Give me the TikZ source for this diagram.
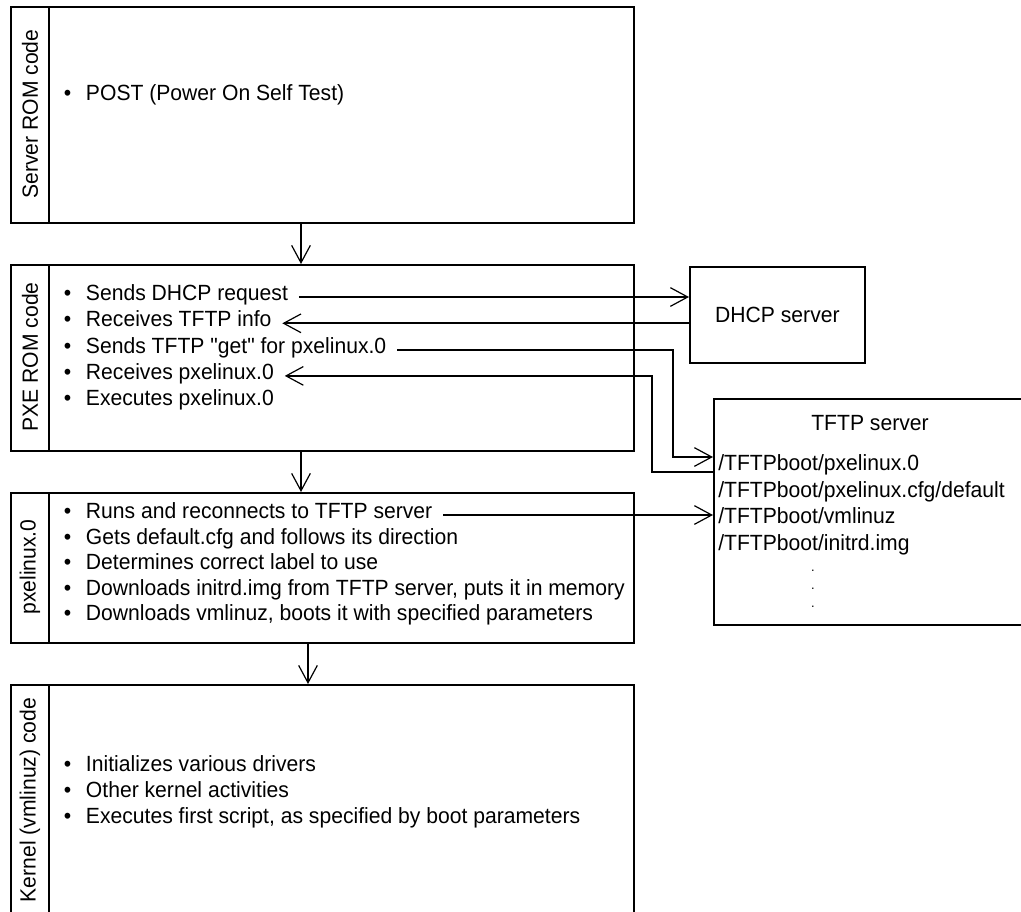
\documentclass[tikz,border=0pt]{standalone}
\usepackage{fontspec}
\setmainfont[FakeStretch=0.96,Ligatures=TeXOff]{Liberation Sans}
\usetikzlibrary{arrows.meta}

\begin{document}
\begin{tikzpicture}[x=0.75pt,y=0.75pt,yscale=-1,xscale=1,
  font=\fontsize{16.5}{20}\selectfont,
  stage/.style={draw, line width=1.4pt, anchor=north west, inner sep=0pt},
  tag/.style={rotate=90, inner sep=0.75pt},
  item/.style={anchor=mid west, inner xsep=8pt, inner ysep=0.75pt},
  file/.style={anchor=mid west, inner sep=0.75pt},
  link/.style={line width=1.4pt},
  flow/.style={line width=1.4pt, -{Straight Barb[length=13pt,width=14pt,line width=0.9pt]}}]
\useasboundingbox (0,0) rectangle (1021,911);

%Shape: Rectangle [stages]
\node [stage, minimum width=467.25pt, minimum height=162pt] (srv) at (10,6) {};
\node [stage, minimum width=467.25pt, minimum height=139.5pt] (pxe) at (10,264) {};
\node [stage, minimum width=467.25pt, minimum height=112.5pt] (pxl) at (10,492) {};
\node [stage, minimum width=467.25pt, minimum height=174pt] (krn) at (10,684) {};
%Shape: Rectangle [servers]
\node [stage, minimum width=131.25pt, minimum height=72pt] (dhcp) at (689,266) {DHCP server};
\node [stage, minimum width=237.75pt, minimum height=169.5pt] (tftp) at (713,398) {};

%Straight Lines [label column]
\draw [link] ([xshift=29.25pt]srv.north west) -- ([xshift=29.25pt]srv.south west);
\draw [link] ([xshift=29.25pt]pxe.north west) -- ([xshift=29.25pt]pxe.south west);
\draw [link] ([xshift=29.25pt]pxl.north west) -- ([xshift=29.25pt]pxl.south west);
\draw [link] ([xshift=29.25pt]krn.north west) -- ([xshift=29.25pt]krn.south west);

% Text Node
\node [tag] (srvtag) at (30,114) {Server ROM code};
% Text Node
\node [tag] (pxetag) at (30,357) {PXE ROM code};
% Text Node
\node [tag] (pxltag) at (30,567) {pxelinux.0};
% Text Node
\node [tag] (krntag) at (30,800) {Kernel (vmlinuz) code};

% Text Node
\node [item] (srvA) at (53,97) {\textbullet\hspace{11pt}POST (Power On Self Test)};

% Text Node
\node [item] (pxeA) at (53,297) {\textbullet\hspace{11pt}Sends DHCP request};
\node [item] (pxeB) at (53,323.3) {\textbullet\hspace{11pt}Receives TFTP info};
\node [item] (pxeC) at (53,349.6) {\textbullet\hspace{11pt}Sends TFTP "get" for pxelinux.0};
\node [item] (pxeD) at (53,375.9) {\textbullet\hspace{11pt}Receives pxelinux.0};
\node [item] (pxeE) at (53,402.2) {\textbullet\hspace{11pt}Executes pxelinux.0};

% Text Node
\node [item] (pxlA) at (53,515) {\textbullet\hspace{11pt}Runs and reconnects to TFTP server};
\node [item] (pxlB) at (53,540.6) {\textbullet\hspace{11pt}Gets default.cfg and follows its direction};
\node [item] (pxlC) at (53,566.2) {\textbullet\hspace{11pt}Determines correct label to use};
\node [item] (pxlD) at (53,591.8) {\textbullet\hspace{11pt}Downloads initrd.img from TFTP server, puts it in memory};
\node [item] (pxlE) at (53,617.4) {\textbullet\hspace{11pt}Downloads vmlinuz, boots it with specified parameters};

% Text Node
\node [item] (krnA) at (53,768) {\textbullet\hspace{11pt}Initializes various drivers};
\node [item] (krnB) at (53,794) {\textbullet\hspace{11pt}Other kernel activities};
\node [item] (krnC) at (53,820) {\textbullet\hspace{11pt}Executes first script, as specified by boot parameters};

% Text Node
\node [inner sep=0.75pt] (tftptitle) at (870,423) {TFTP server};
\node [file] (fileA) at (717,467) {/TFTPboot/pxelinux.0};
\node [file] (fileB) at (717,493.5) {/TFTPboot/pxelinux.cfg/default};
\node [file] (fileC) at (717,520) {/TFTPboot/vmlinuz};
\node [file] (fileD) at (717,546.5) {/TFTPboot/initrd.img};
\node [inner sep=0pt, align=center, font=\fontsize{10}{13.5}\selectfont] (dots) at (813,589) {.\\.\\.};

%Straight Lines [stage order]
\draw [flow] (srv.south -| 301,0) -- (pxe.north -| 301,0);
\draw [flow] (pxe.south -| 301,0) -- (pxl.north -| 301,0);
\draw [flow] (pxl.south -| 308,0) -- (krn.north -| 308,0);

%Straight Lines [network]
\coordinate (getbend) at (673,457);
\coordinate (putbend) at (652,472);
\draw [flow] (pxeA.mid east) -- (pxeA.mid east -| dhcp.west);
\draw [flow] (pxeB.mid east -| dhcp.west) -- (pxeB.mid east);
\draw [flow] (pxeC.mid east) -| (getbend) -- (getbend -| tftp.west);
\draw [flow] (putbend -| tftp.west) -- (putbend) |- (pxeD.mid east);
\draw [flow] (pxlA.mid east) -- (pxlA.mid east -| tftp.west);

\end{tikzpicture}
\end{document}
